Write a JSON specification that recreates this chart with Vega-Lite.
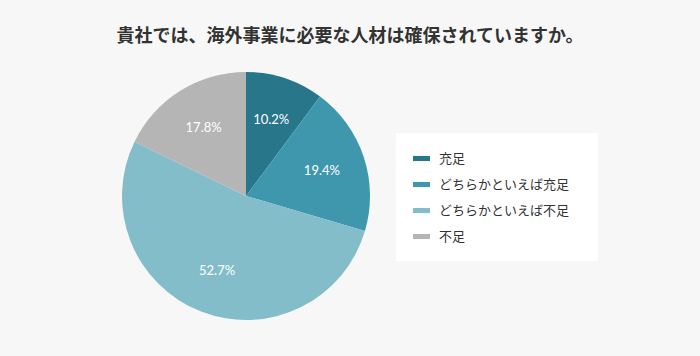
{
  "$schema": "https://vega.github.io/schema/vega-lite/v6.json",
  "width": 492,
  "height": 248,
  "autosize": {"type": "none"},
  "padding": {"left": 0, "top": 72, "right": 208, "bottom": 36},
  "background": "#f7f7f7",
  "title": {
    "text": "貴社では、海外事業に必要な人材は確保されていますか。",
    "font": "Noto Sans CJK JP",
    "fontSize": 18,
    "fontWeight": "bold",
    "color": "#333333",
    "anchor": "middle",
    "dx": 104,
    "offset": 26
  },
  "data": {
    "values": [
      {"answer": "充足", "pct": 10.2, "label": "10.2%", "ord": 1},
      {"answer": "どちらかといえば充足", "pct": 19.4, "label": "19.4%", "ord": 2},
      {"answer": "どちらかといえば不足", "pct": 52.7, "label": "52.7%", "ord": 3},
      {"answer": "不足", "pct": 17.8, "label": "17.8%", "ord": 4}
    ]
  },
  "encoding": {
    "theta": {"field": "pct", "type": "quantitative", "stack": true},
    "order": {"field": "ord", "type": "quantitative"}
  },
  "layer": [
    {
      "mark": {"type": "arc", "stroke": null},
      "encoding": {
        "color": {
          "field": "answer",
          "type": "nominal",
          "scale": {
            "domain": ["充足", "どちらかといえば充足", "どちらかといえば不足", "不足"],
            "range": ["#28768a", "#3f97ae", "#83bdc9", "#b5b5b5"]
          },
          "sort": null,
          "legend": {
            "orient": "none",
            "legendX": 396,
            "legendY": 61,
            "title": " ",
            "titleOrient": "right",
            "titlePadding": 12,
            "titleFontSize": 13,
            "fillColor": "#ffffff",
            "padding": 17,
            "symbolType": "M-1,-0.3H1V0.3H-1Z",
            "symbolSize": 289,
            "symbolStrokeWidth": 0,
            "labelFont": "Noto Sans CJK JP",
            "labelFontSize": 13,
            "labelColor": "#333333",
            "labelOffset": 9,
            "rowPadding": 10,
            "labelLimit": 300
          }
        }
      }
    },
    {
      "mark": {"type": "text", "radius": 80, "font": "Lato", "fontSize": 13, "color": "#ffffff"},
      "encoding": {"text": {"field": "label", "type": "nominal"}}
    }
  ]
}
